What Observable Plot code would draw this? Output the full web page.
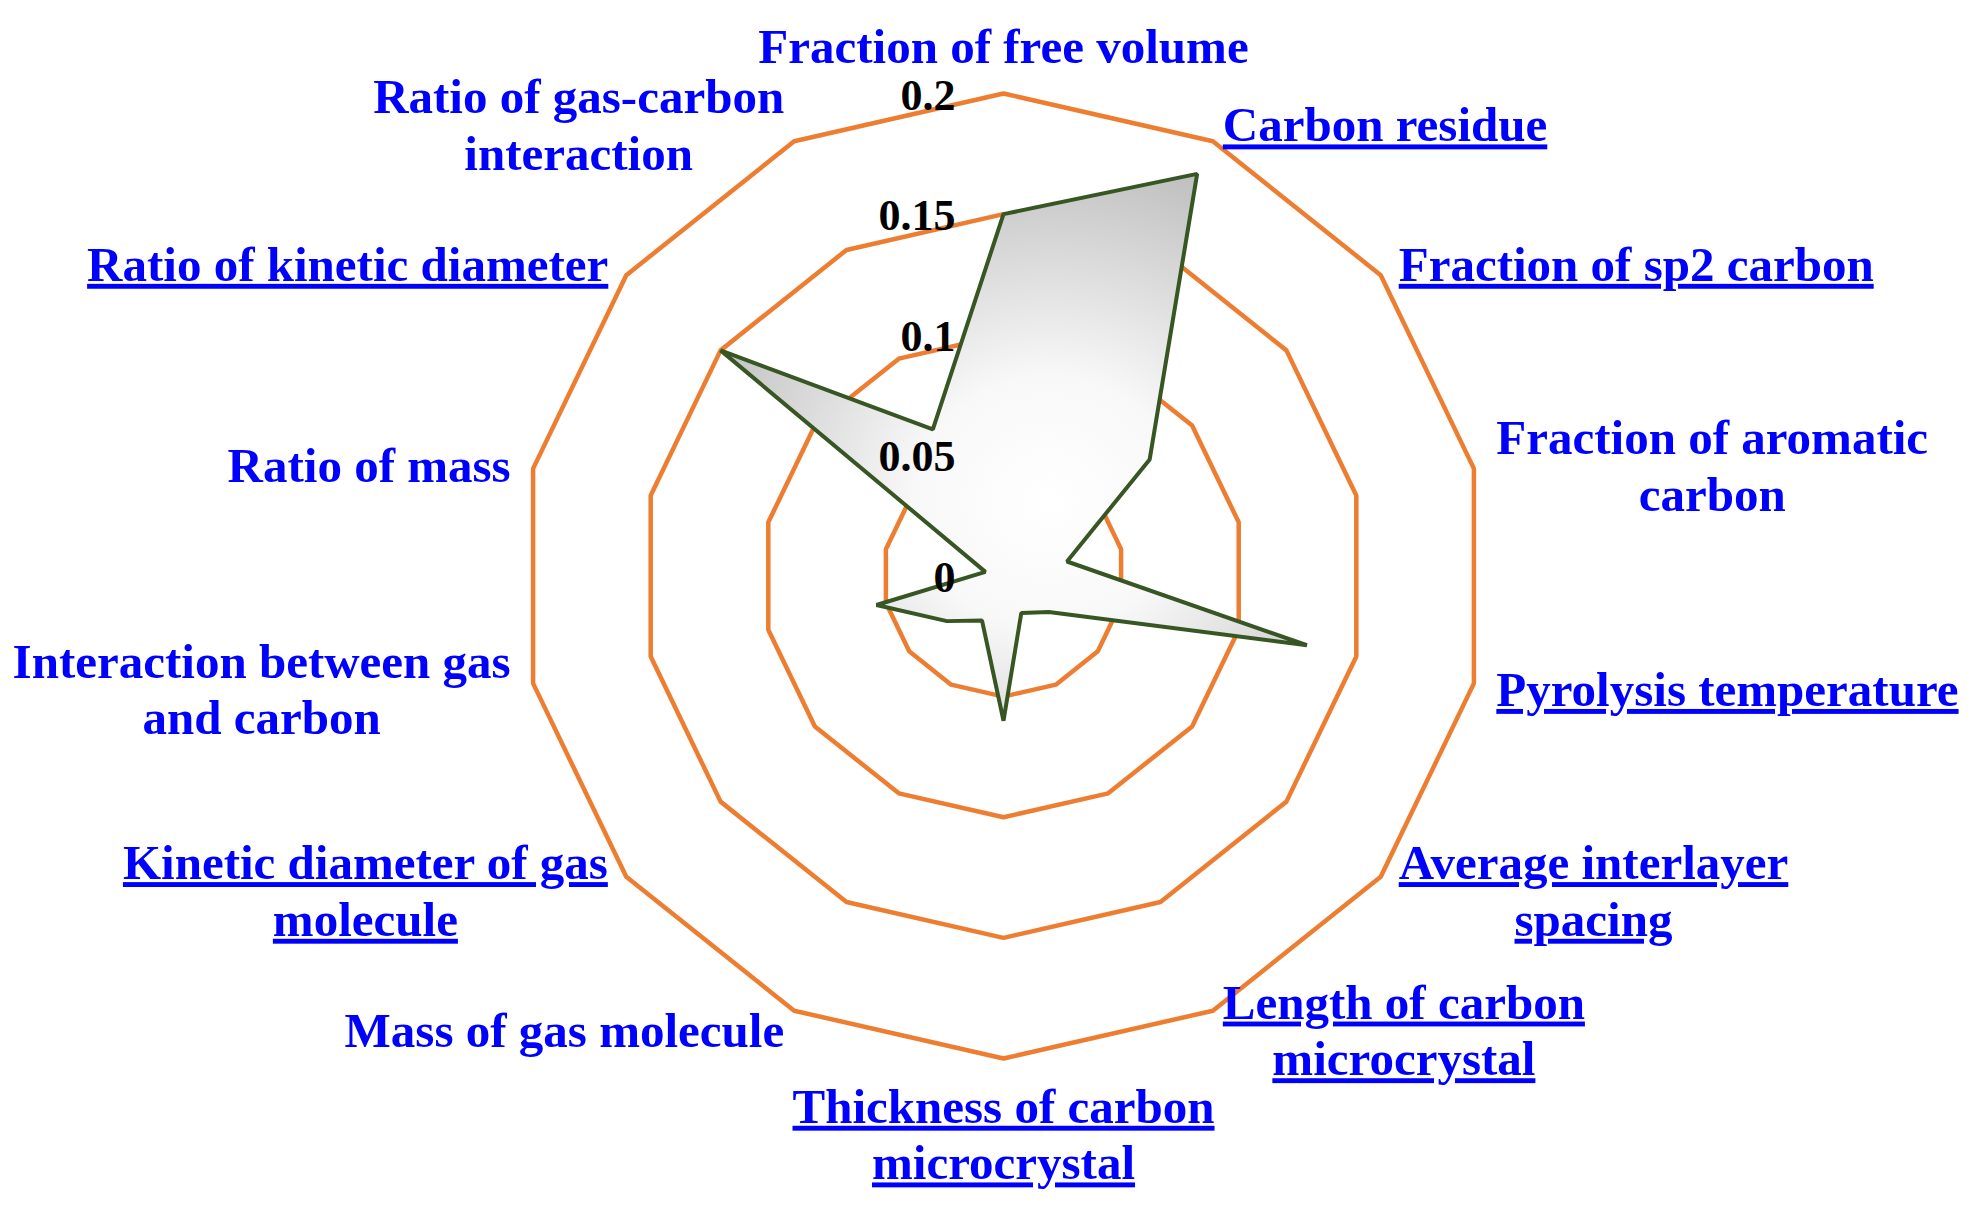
<!DOCTYPE html>
<html>
<head>
<meta charset="utf-8">
<script src="https://cdn.jsdelivr.net/npm/d3@7"></script>
<script src="https://cdn.jsdelivr.net/npm/@observablehq/plot@0.6"></script>
<style>
  html, body { margin: 0; padding: 0; background: #ffffff; }
  #chart svg { display: block; }
  g[aria-description="underlined"] text {
    text-decoration: underline;
    text-decoration-thickness: 3px;
    text-underline-offset: 7px;
    text-decoration-skip-ink: none;
  }
</style>
</head>
<body>
<div id="chart"></div>
<script>
// ---------------- data ----------------
const categories = [
  "Fraction of free volume",
  "Carbon residue",
  "Fraction of sp2 carbon",
  "Fraction of aromatic\ncarbon",
  "Pyrolysis temperature",
  "Average interlayer\nspacing",
  "Length of carbon\nmicrocrystal",
  "Thickness of carbon\nmicrocrystal",
  "Mass of gas molecule",
  "Kinetic diameter of gas\nmolecule",
  "Interaction between gas\nand carbon",
  "Ratio of mass",
  "Ratio of kinetic diameter",
  "Ratio of gas-carbon\ninteraction"
];
const values = [0.150, 0.185, 0.0775, 0.027, 0.129, 0.024, 0.017, 0.060, 0.0205, 0.030, 0.054, 0.0077, 0.150, 0.0675];
const tickValues = [0, 0.05, 0.1, 0.15, 0.2];
const tickLabels = ["0", "0.05", "0.1", "0.15", "0.2"];
const underlinedCategories = [
  "Carbon residue",
  "Fraction of sp2 carbon",
  "Pyrolysis temperature",
  "Average interlayer\nspacing",
  "Length of carbon\nmicrocrystal",
  "Thickness of carbon\nmicrocrystal",
  "Kinetic diameter of gas\nmolecule",
  "Ratio of kinetic diameter"
];

// ---------------- layout / style ----------------
const W = 1977, H = 1221;
const CX = 1003, CY = 575.5, R = 482.5;       // centre and outer radius in px
const maxV = 0.2;
const k = maxV / R;                            // data units per px
const labelFont = "'Liberation Serif', 'Times New Roman', serif";
const labelSize = 49, labelLineHeight = 1.157;
const padX = 23, padY = 20, padTop = 31, padBottom = 24;
const n = categories.length;
const angle = i => 2 * Math.PI * i / n;

// text measurement for centring multi-line labels
const ctx = document.createElement("canvas").getContext("2d");
ctx.font = `bold ${labelSize}px ${labelFont}`;
const lineWidth = s => Math.max(...s.split("\n").map(l => ctx.measureText(l).width));

// rings
const ringRows = tickValues.filter(v => v > 0).flatMap(v =>
  categories.map((c, i) => ({ring: v, x: v * Math.sin(angle(i)), y: v * Math.cos(angle(i))}))
);
// polygon
const polyRows = values.map((v, i) => ({x: v * Math.sin(angle(i)), y: v * Math.cos(angle(i))}));
// labels
const labelRows = categories.map((c, i) => {
  const s = Math.sin(angle(i)), co = Math.cos(angle(i));
  const vx = R * s, vy = R * co;   // px, y up
  let px, py, anchor;
  if (Math.abs(s) < 0.1) {
    px = vx;
    if (co > 0) { py = vy + padTop; anchor = "bottom"; }
    else { py = vy - padBottom; anchor = "top"; }
  } else {
    const ax = vx + padX * s, ay = vy + padY * co;
    px = ax + Math.sign(s) * lineWidth(c) / 2;
    py = ay;
    anchor = "middle";
  }
  return {label: c, x: px * k, y: py * k, anchor, underlined: underlinedCategories.includes(c)};
});

const labelMarks = [];
for (const anchor of ["top", "middle", "bottom"]) {
  for (const u of [true, false]) {
    labelMarks.push(Plot.text(labelRows, {
      filter: d => d.anchor === anchor && d.underlined === u,
      x: "x", y: "y", text: "label",
      textAnchor: "middle", lineAnchor: anchor, lineHeight: labelLineHeight,
      fontSize: labelSize, fontWeight: "bold", fontFamily: labelFont,
      fill: "#0000FF",
      ariaDescription: u ? "underlined" : "plain"
    }));
  }
}

const chart = Plot.plot({
  width: W, height: H,
  margin: 0,
  x: {domain: [-maxV, maxV], range: [CX - R, CX + R], axis: null},
  y: {domain: [-maxV, maxV], range: [CY + R, CY - R], axis: null},
  style: {background: "#ffffff", fontFamily: labelFont},
  marks: [
    Plot.line(ringRows, {x: "x", y: "y", z: "ring", curve: "linear-closed",
      stroke: "#ED7D31", strokeWidth: 4.5, strokeLinejoin: "miter"}),
    Plot.line(polyRows, {x: "x", y: "y", curve: "linear-closed",
      fill: "url(#polyGrad)", stroke: "#375623", strokeWidth: 4, strokeLinejoin: "miter"}),
    Plot.text(tickValues, {x: 0, y: d => d, text: (d, i) => tickLabels[i],
      textAnchor: "end", lineAnchor: "bottom", dx: -48, dy: 16,
      fontSize: 44, fontWeight: "bold", fontFamily: labelFont, fill: "#000000"}),
    ...labelMarks
  ]
});

const defs = document.createElementNS("http://www.w3.org/2000/svg", "defs");
defs.innerHTML = `<radialGradient id="polyGrad" cx="0.56" cy="0.6" r="0.66">
  <stop offset="0" stop-color="#ffffff"/>
  <stop offset="0.35" stop-color="#f8f8f8"/>
  <stop offset="1" stop-color="#bdbdbd"/>
</radialGradient>`;
chart.insertBefore(defs, chart.firstChild);
document.getElementById("chart").appendChild(chart);
</script>
</body>
</html>
